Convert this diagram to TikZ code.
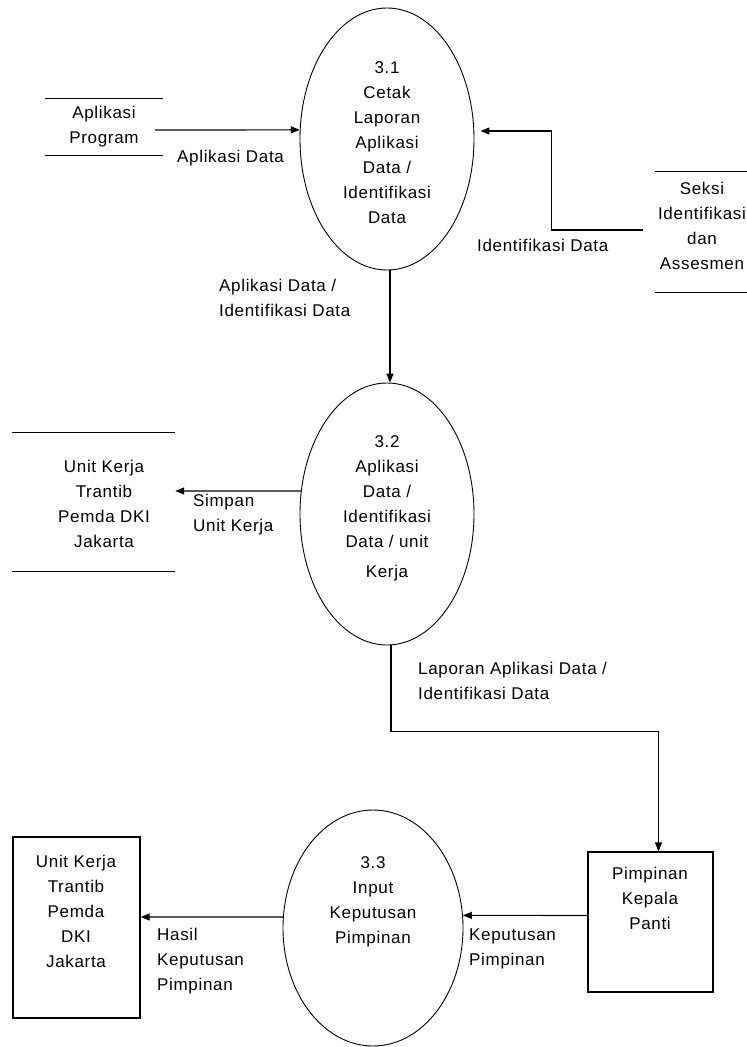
\documentclass[tikz,border=0pt]{standalone}
\usepackage{fontspec}
\setmainfont{Liberation Sans}[LetterSpace=4]
\usetikzlibrary{shapes.geometric,arrows.meta,calc}
\begin{document}
\begin{tikzpicture}[x=1pt,y=-1pt,
  every node/.style={font=\fontsize{17}{25}\selectfont},
  proc/.style={ellipse,draw,line width=0.9pt,inner sep=0pt},
  txt/.style={align=center,inner sep=0pt},
  lbl/.style={align=left,inner sep=0pt,anchor=west},
  storebox/.style={inner sep=0pt,align=center},
  storeline/.style={line width=1.2pt},
  ebox/.style={draw,line width=1.2pt,inner sep=0pt},
  flow/.style={line width=1.2pt,-{Triangle[length=9pt,width=7pt]}}]
\useasboundingbox (0,0) rectangle (747,1047);
\fill[white] (0,0) rectangle (747,1047);

% processes
\node[proc,minimum width=174,minimum height=262] (p1) at (387,139) {};
\node[txt] (p1t) at (387,143) {3.1\\Cetak\\Laporan\\Aplikasi\\Data /\\Identifikasi\\Data};
\node[proc,minimum width=174,minimum height=262] (p2) at (387,514) {};
\node[txt] (p2t) at (387,508) {3.2\\Aplikasi\\Data /\\Identifikasi\\Data / unit\\[5pt]Kerja};
\node[proc,minimum width=180,minimum height=236] (p3) at (373,928) {};
\node[txt] (p3t) at (373,902) {3.3\\Input\\Keputusan\\Pimpinan};

% data stores
\node[storebox,minimum width=118,minimum height=56] (s1) at (104,127) {Aplikasi\\Program};
\draw[storeline] (s1.north west) -- (s1.north east) (s1.south west) -- (s1.south east);
\node[storebox,minimum width=96,minimum height=121] (s3) at (703,232) {};
\node[txt] (s3t) at (702,226) {Seksi\\Identifikasi\\dan\\Assesmen};
\draw[storeline] (s3.north west) -- (s3.north east) (s3.south west) -- (s3.south east);
\node[storebox,minimum width=163,minimum height=138] (s2) at (93.5,502) {};
\node[txt] (s2t) at (104,504) {Unit Kerja\\Trantib\\Pemda DKI\\Jakarta};
\draw[storeline] (s2.north west) -- (s2.north east) (s2.south west) -- (s2.south east);

% external entities
\node[ebox,minimum width=125,minimum height=140] (b1) at (650.5,922) {};
\node[txt] (b1t) at (650,898) {Pimpinan\\Kepala\\Panti};
\node[ebox,minimum width=127,minimum height=181] (b2) at (76.5,927.5) {};
\node[txt] (b2t) at (76,911) {Unit Kerja\\Trantib\\Pemda\\DKI\\Jakarta};

% flows
\draw[flow] ($(s1.east)+(-8,3)$) -- (p1.174);
\node[lbl] (l1) at (177,158) {Aplikasi Data};

\draw[flow] ($(s3.west)+(-12,-2)$) -- ++(-91,0) |- ($(p1.east)+(6,-8)$);
\node[lbl] (l2) at (477,245) {Identifikasi Data};

\draw[flow] ($(p1.south)+(3,0)$) -- ($(p2.north)+(3,0)$);
\node[lbl] (l3) at (219,297.5) {Aplikasi Data /\\Identifikasi Data};

\draw[flow] (p2.165) -- ($(s2.east)+(0,-11)$);
\node[lbl] (l4) at (193,514.5) {Simpan\\Unit Kerja};

\draw[flow] ($(p2.south)+(4,0)$) -- ++(0,86) -| ($(b1.north)+(8,0)$);
\node[lbl] (l5) at (418,680.5) {Laporan Aplikasi Data /\\Identifikasi Data};

\draw[flow] ($(b1.west)+(0,-6.6)$) -- (p3.8);
\node[lbl] (l6) at (469,948.5) {Keputusan\\Pimpinan};

\draw[flow] (p3.173) -- ($(b2.east)+(0,-10.5)$);
\node[lbl] (l7) at (157,961) {Hasil\\Keputusan\\Pimpinan};
\end{tikzpicture}
\end{document}
